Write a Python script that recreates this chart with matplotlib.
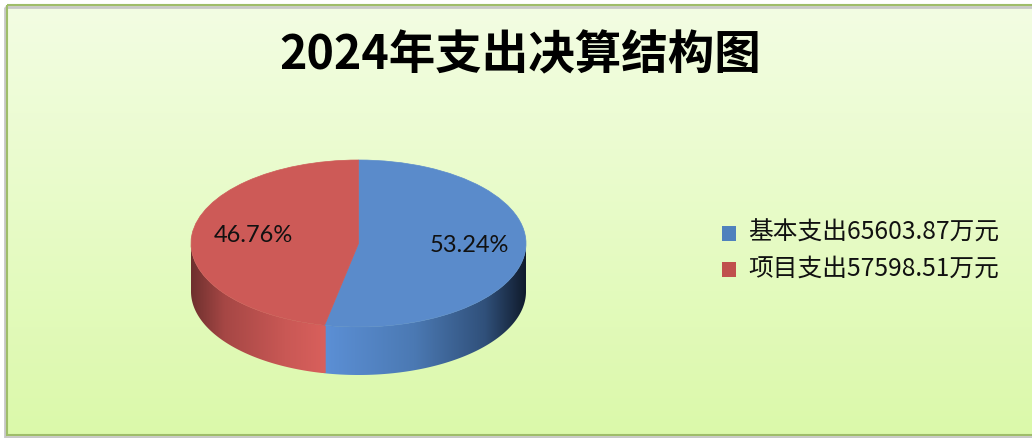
import numpy as np
import matplotlib
matplotlib.use("Agg")
import matplotlib.pyplot as plt
from matplotlib.patches import Wedge, Polygon, Rectangle
from matplotlib.transforms import Affine2D

plt.rcParams['font.family'] = ['Noto Sans CJK SC', 'DejaVu Sans']

# ---- data ----
title = "2024年支出决算结构图"
categories = ["基本支出", "项目支出"]
values = [65603.87, 57598.51]
unit = "万元"
pct_labels = ["53.24%", "46.76%"]

# ---- style ----
top_colors = ["#5a8bcb", "#cd5a57"]
legend_colors = ["#4f81bd", "#c0504d"]
side_stops = [
    [(0.0, "#5c90d6"), (0.45, "#4b79b3"), (0.8, "#30507a"), (1.0, "#101b2c")],   # blue: light->dark (left->right)
    [(0.0, "#6e302e"), (0.25, "#a64745"), (0.7, "#c95855"), (1.0, "#d9605c")],   # red: dark->light (left->right)
]

W, H = 1032, 438
fig = plt.figure(figsize=(W / 100, H / 100), dpi=100)
ax = fig.add_axes([0, 0, 1, 1])
ax.set_xlim(0, W)
ax.set_ylim(H, 0)
ax.axis("off")

# background gradient
top_c = np.array(matplotlib.colors.to_rgb("#f3fde3"))
bot_c = np.array(matplotlib.colors.to_rgb("#dbf9aa"))
t = np.linspace(0, 1, 200)[:, None, None]
bg = top_c * (1 - t) + bot_c * t
bg = np.repeat(bg, 2, axis=1)
ax.imshow(bg, extent=(7, W + 5, 435, 5), aspect="auto", zorder=0, interpolation="bilinear")
# frame + shadow
ax.add_patch(Rectangle((5, 7), W, 430, facecolor="none", edgecolor="#c8c8c8", lw=2.0, zorder=1))
ax.add_patch(Rectangle((7, 5), W, 430, facecolor="none", edgecolor="#9fbd6a", lw=1.5, zorder=2))

# ---- 3D pie ----
cx, cy, rx, ry, depth = 358.5, 243.5, 167.5, 83.5, 48
fracs = np.array(values) / np.sum(values)
start = 90.0
angles = []
a = start
for f in fracs:
    angles.append((a - 360 * f, a))  # clockwise
    a -= 360 * f

def ept(th, dy=0.0):
    r = np.radians(th)
    return cx + rx * np.cos(r), cy - ry * np.sin(r) + dy

def side_gradient(poly_xy, stops, zorder):
    xs = poly_xy[:, 0]
    x0, x1 = xs.min(), xs.max()
    pos = [s[0] for s in stops]
    cols = np.array([matplotlib.colors.to_rgb(s[1]) for s in stops])
    n = 300
    u = np.linspace(0, 1, n)
    img = np.stack([np.interp(u, pos, cols[:, k]) for k in range(3)], axis=-1)[None, :, :]
    img = np.repeat(img, 2, axis=0)
    y0, y1 = poly_xy[:, 1].min(), poly_xy[:, 1].max()
    im = ax.imshow(img, extent=(x0, x1, y1, y0), aspect="auto", zorder=zorder, interpolation="bilinear")
    clip = Polygon(poly_xy, closed=True, facecolor="none", edgecolor="none", transform=ax.transData)
    ax.add_patch(clip)
    im.set_clip_path(clip)

# side walls: only front (180..360 deg)
for i, (a0, a1) in enumerate(angles):
    lo, hi = a0 - 0.4, a1 + 0.4
    segs = []
    for off in (-360, 0, 360):
        s_lo, s_hi = max(lo, -180 + off), min(hi, 0 + off)
        if s_hi > s_lo:
            segs.append((s_lo, s_hi))
    for s_lo, s_hi in segs:
        th = np.linspace(s_lo, s_hi, 200)
        topp = np.array([ept(v) for v in th])
        botp = np.array([ept(v, depth) for v in th[::-1]])
        poly = np.vstack([topp, botp])
        side_gradient(poly, side_stops[i], zorder=3 + 0.1 * i)

# top faces via Wedge in unit circle scaled to ellipse
tr = Affine2D().scale(rx, -ry).translate(cx, cy) + ax.transData
for i, (a0, a1) in enumerate(angles):
    w = Wedge((0, 0), 1.0, a0, a1, facecolor=top_colors[i], edgecolor=top_colors[i],
              lw=0.5, transform=tr, zorder=4)
    ax.add_patch(w)

# percentage labels
label_pos = [(469, 245), (253, 235)]
for (x, y), s in zip(label_pos, pct_labels):
    ax.text(x, y, s, fontsize=17, family=["Lato", "DejaVu Sans"], color="#111111",
            ha="center", va="center", zorder=6)

# title
ax.text(520, 55, title, fontsize=33.5, fontweight="bold", ha="center", va="center",
        color="#000000", zorder=6)

# legend
leg_y = [233, 269]
for i, cat in enumerate(categories):
    ax.add_patch(Rectangle((722, leg_y[i] - 7.5), 14, 15, facecolor=legend_colors[i],
                           edgecolor="none", zorder=6))
    ax.text(748, leg_y[i], f"{cat}{values[i]:.2f}{unit}", fontsize=17.8, ha="left", va="center",
            color="#111111", zorder=6)

fig.savefig("out.png", dpi=100, facecolor="white")
